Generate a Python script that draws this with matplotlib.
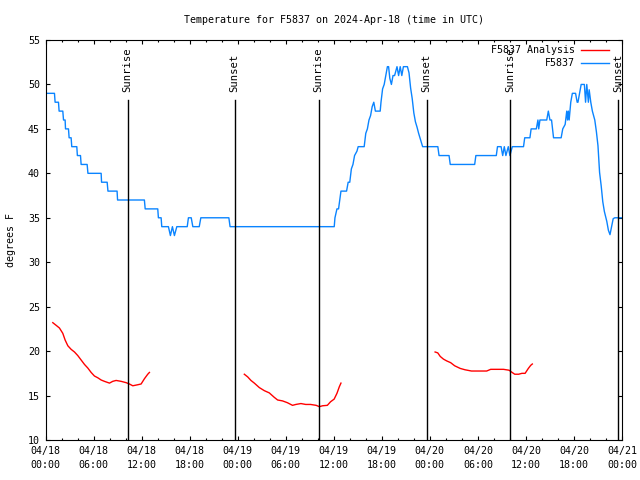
import matplotlib
matplotlib.use('Agg')
import matplotlib.pyplot as plt
from matplotlib.ticker import MultipleLocator

plt.rcParams['font.family'] = ['DejaVu Sans Mono']

# ---- data (hours since 2024-04-18 00:00 UTC) ----
obs_hours = [0.0, 1.12, 1.2, 1.62, 1.7, 2.16, 2.25, 2.45, 2.5, 2.87, 2.95, 3.2, 3.28, 3.91,
             3.98, 4.37, 4.45, 5.2, 5.3, 6.95, 7.0, 7.7, 7.8, 8.94, 9.0, 12.35, 12.45, 14.02,
             14.1, 14.44, 14.52, 15.35, 15.6, 15.85, 16.1, 16.4, 17.7, 17.85, 18.2, 18.4, 19.2,
             19.4, 22.9, 23.05, 36.06, 36.15, 36.4, 36.6, 36.9, 37.6, 37.8, 38.0, 38.2, 38.4,
             38.6, 38.9, 39.05, 39.8, 40.0, 40.2, 40.4, 40.6, 40.8, 41.0, 41.2, 41.8, 41.9,
             42.1, 42.3, 42.4, 42.6, 42.7, 42.85, 43.0, 43.2, 43.4, 43.6, 43.9, 44.1, 44.3,
             44.5, 44.7, 45.2, 45.4, 45.6, 45.8, 46.0, 46.2, 46.4, 46.6, 46.8, 47.1, 49.0,
             49.15, 50.4, 50.55, 53.6, 53.75, 56.3, 56.45, 56.9, 57.1, 57.3, 57.5, 57.8, 58.0,
             58.3, 59.7, 59.85, 60.5, 60.65, 61.3, 61.5, 61.6, 61.75, 62.6, 62.8, 63.0, 63.2,
             63.45, 64.4, 64.6, 64.9, 65.1, 65.2, 65.3, 65.4, 65.5, 65.6, 65.8, 66.2, 66.4,
             66.5, 66.7, 66.9, 67.3, 67.45, 67.6, 67.8, 67.9, 68.1, 68.3, 68.6, 68.8, 69.0,
             69.2, 69.4, 69.6, 69.8, 70.1, 70.3, 70.5, 70.7, 70.9, 71.1, 72.0]
obs_temps = [49, 49, 48, 48, 47, 47, 46, 46, 45, 45, 44, 44, 43, 43,
             42, 42, 41, 41, 40, 40, 39, 39, 38, 38, 37, 37, 36, 36,
             35, 35, 34, 34, 33, 34, 33, 34, 34, 35, 35, 34, 34,
             35, 35, 34, 34, 35, 36, 36, 38, 38, 39, 39, 40.5, 41,
             42, 42.5, 43, 43, 44.5, 45, 46, 46.5, 47.5, 48, 47, 47, 48,
             49.5, 50, 50.5, 51.5, 52, 52, 50.7, 50, 51, 51, 52, 51, 52,
             51, 52, 52, 51.3, 49.6, 48.4, 46.8, 45.8, 45.2, 44.5, 43.9, 43, 43,
             42, 42, 41, 41, 42, 42, 43, 43, 42, 43, 42, 43, 42,
             43, 43, 44, 44, 45, 45, 46, 45, 46, 46, 47, 46, 46,
             44, 44, 45, 45.5, 47, 46, 47, 46, 47, 48, 49, 49, 48,
             48, 49, 50, 50, 48, 50, 48, 49.4, 48, 47, 46, 44.7, 43.1,
             40.1, 38.6, 36.8, 35.7, 34.6, 33.6, 33.1, 34, 34.9, 35, 35]

ana_hours_1 = [0.91, 1.33, 1.74, 2.16, 2.45, 2.79, 3.2, 3.62, 4.03, 4.45, 4.87, 5.28, 5.70,
               6.11, 6.53, 6.95, 7.36, 7.99, 8.4, 8.82, 9.44, 10.07, 10.48, 10.9, 11.44,
               11.94, 12.36, 12.77, 12.98]
ana_temps_1 = [23.2, 22.9, 22.6, 22.0, 21.25, 20.6, 20.2, 19.9, 19.5, 19.0, 18.5, 18.1, 17.6,
               17.2, 17.0, 16.75, 16.6, 16.4, 16.6, 16.7, 16.6, 16.45, 16.3, 16.1, 16.2,
               16.3, 16.9, 17.4, 17.6]
ana_hours_2 = [24.83, 25.25, 25.66, 26.08, 26.7, 27.33, 27.95, 28.57, 28.99, 29.6, 30.2,
               30.85, 31.27, 31.9, 32.5, 33.1, 33.8, 34.2, 34.6, 35.2, 35.6, 36.05, 36.4,
               36.7, 36.9]
ana_temps_2 = [17.4, 17.1, 16.7, 16.4, 15.9, 15.55, 15.3, 14.8, 14.5, 14.4, 14.2,
               13.9, 14.0, 14.1, 14.0, 14.0, 13.9, 13.75, 13.85, 13.9, 14.3, 14.6, 15.25,
               16.0, 16.4]
ana_hours_3 = [48.66, 48.99, 49.3, 49.7, 50.1, 50.6, 51.1, 51.8, 52.4, 53.2, 54.1, 55.1,
               55.6, 56.4, 57.2, 57.9, 58.2, 58.6, 59.1, 59.5, 59.9, 60.3, 60.6, 60.8]
ana_temps_3 = [19.9, 19.8, 19.4, 19.1, 18.9, 18.7, 18.35, 18.05, 17.9, 17.76, 17.76, 17.76,
               17.95, 17.95, 17.95, 17.85, 17.65, 17.4, 17.4, 17.5, 17.5, 18.05, 18.4, 18.55]

sun_labels = ['Sunrise', 'Sunset', 'Sunrise', 'Sunset', 'Sunrise', 'Sunset']
sun_hours = [10.27, 23.63, 34.12, 47.59, 58.07, 71.54]

xtick_hours = [0, 6, 12, 18, 24, 30, 36, 42, 48, 54, 60, 66, 72]
xtick_labels = ['04/18\n00:00', '04/18\n06:00', '04/18\n12:00', '04/18\n18:00',
                '04/19\n00:00', '04/19\n06:00', '04/19\n12:00', '04/19\n18:00',
                '04/20\n00:00', '04/20\n06:00', '04/20\n12:00', '04/20\n18:00',
                '04/21\n00:00']
ytick_values = [10, 15, 20, 25, 30, 35, 40, 45, 50, 55]

title = 'Temperature for F5837 on 2024-Apr-18 (time in UTC)'
ylabel = 'degrees F'
series_names = ['F5837 Analysis', 'F5837']

blue = '#0a84ff'
red = '#ff0000'
fs = 7.2

fig = plt.figure(figsize=(6.4, 4.8), dpi=100)
ax = fig.add_axes([45.5 / 640, 40 / 480, 576.5 / 640, 400 / 480])
ax.set_xlim(0, 72)
ax.set_ylim(10, 55)

ax.plot(obs_hours, obs_temps, color=blue, lw=1.0)
for hs, ts in [(ana_hours_1, ana_temps_1), (ana_hours_2, ana_temps_2), (ana_hours_3, ana_temps_3)]:
    ax.plot(hs, ts, color=red, lw=1.0)

for lab, h in zip(sun_labels, sun_hours):
    ax.plot([h, h], [10, 48.25], color='black', lw=1.0)
    ax.text(h, 49.15, lab, rotation=90, ha='center', va='bottom', fontsize=7.6)

ax.set_xticks(xtick_hours)
ax.set_xticklabels(xtick_labels, fontsize=fs)
for t in ax.get_xticklabels():
    t.set_linespacing(1.5)
ax.xaxis.set_minor_locator(MultipleLocator(2))
ax.set_yticks(ytick_values)
ax.set_yticklabels([str(v) for v in ytick_values], fontsize=fs)

ax.tick_params(which='both', direction='in', top=True, right=True, width=0.8, colors='black')
ax.tick_params(which='major', length=3.0, pad=4)
ax.tick_params(which='minor', length=1.5)
for s in ax.spines.values():
    s.set_linewidth(0.8)

ax.set_ylabel(ylabel, fontsize=fs)
ax.yaxis.set_label_coords(-0.052, 0.5)

fig.text(333.5 / 640, 1 - 20 / 480, title, ha='center', va='center', fontsize=fs)

# legend (gnuplot style: right-aligned text, line sample to the right)
for name, col, yf in [(series_names[0], red, 0.975), (series_names[1], blue, 0.9425)]:
    ax.text(0.918, yf, name, transform=ax.transAxes, ha='right', va='center', fontsize=fs)
    ax.plot([0.929, 0.977], [yf, yf], transform=ax.transAxes, color=col, lw=1.0, clip_on=False)

fig.savefig('out.png', dpi=100)
